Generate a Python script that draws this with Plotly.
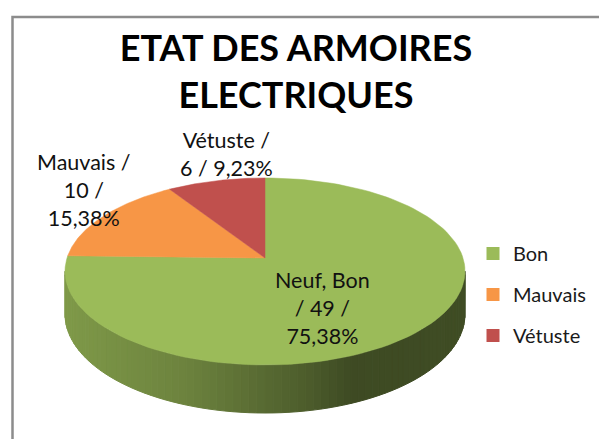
import numpy as np
import plotly.graph_objects as go

# ---- data ----
categories = ["Bon", "Mauvais", "Vétuste"]          # legend entries
label_names = ["Neuf, Bon", "Mauvais", "Vétuste"]   # data label names
values = [49, 10, 6]
colors = ["#9bbb59", "#f79646", "#c0504d"]
title_text = "ETAT DES ARMOIRES<br>ELECTRIQUES"

# ---- geometry (pixel space) ----
W, H = 599, 439
CX, CY = 265, 258
RX, RY = 198, 93.5
PERSP = 0.144
DEPTH = 42
FONT = "Lato, 'Open Sans', sans-serif"


def proj(theta, drop=0.0):
    c = np.cos(theta)
    s = np.sin(theta)
    k = 1 - PERSP * c
    return CX + RX * s * k, CY - RY * c * k + drop * k


def hex_rgb(h):
    h = h.lstrip("#")
    return tuple(int(h[i:i + 2], 16) for i in (0, 2, 4))


total = float(sum(values))
fracs = [v / total for v in values]
bounds = np.concatenate([[0.0], np.cumsum(fracs)]) * 2 * np.pi

fig = go.Figure()

# ---- side wall (front half), shaded gradient ----
ts = np.linspace(0, 2 * np.pi, 2000)
xs, _ = proj(ts)
t_right = ts[np.argmax(xs)]
t_left = ts[np.argmin(xs)]
n_strips = 80
edges = np.linspace(t_right, t_left, n_strips + 1)
shade_pts = [(0.0, 0.82), (0.3, 0.70), (0.6, 0.50), (0.72, 0.40), (1.0, 0.41)]
for i in range(n_strips):
    a0, a1 = edges[i], edges[i + 1]
    am = 0.5 * (a0 + a1)
    idx = int(np.searchsorted(bounds, am % (2 * np.pi), side="right") - 1)
    idx = min(max(idx, 0), len(values) - 1)
    th = np.linspace(a0, a1, 4)
    tx, ty = proj(th)
    bx, by = proj(th[::-1], DEPTH)
    px = np.concatenate([tx, bx, tx[:1]])
    py = np.concatenate([ty, by, ty[:1]])
    mx, _ = proj(am)
    t = (mx - (CX - RX)) / (2 * RX)
    f = np.interp(t, [p[0] for p in shade_pts], [p[1] for p in shade_pts])
    r, g, b = hex_rgb(colors[idx])
    col = f"rgb({int(r * f)},{int(g * f)},{int(b * f)})"
    fig.add_trace(go.Scatter(x=px, y=py, mode="lines", fill="toself",
                             fillcolor=col, line=dict(color=col, width=1),
                             hoverinfo="skip", showlegend=False))

# ---- top faces ----
for i in range(len(values)):
    th = np.linspace(bounds[i], bounds[i + 1], 120)
    ax, ay = proj(th)
    px = np.concatenate([[CX], ax, [CX]])
    py = np.concatenate([[CY], ay, [CY]])
    fig.add_trace(go.Scatter(x=px, y=py, mode="lines", fill="toself",
                             fillcolor=colors[i], line=dict(color=colors[i], width=0.5),
                             name=categories[i], hoverinfo="skip", showlegend=False))

# ---- legend entries ----
for i in range(len(values)):
    fig.add_trace(go.Scatter(x=[None], y=[None], mode="markers", name=categories[i],
                             legendgroup=categories[i],
                             marker=dict(symbol="square", size=13, color=colors[i])))

# ---- data labels ----
def fmt_pct(fr):
    return f"{fr * 100:.2f}%".replace(".", ",")

label_texts = [
    f"{label_names[0]}<br>/ {values[0]} /<br>{fmt_pct(fracs[0])}",
    f"{label_names[1]} /<br>{values[1]} /<br>{fmt_pct(fracs[1])}",
    f"{label_names[2]} /<br>{values[2]} / {fmt_pct(fracs[2])}",
]
label_pos = [(322, 308), (84, 190), (226, 154)]
for txt, (lx, ly) in zip(label_texts, label_pos):
    fig.add_annotation(x=lx, y=ly, xref="x", yref="y", text=txt, showarrow=False,
                       xanchor="center", yanchor="middle", align="center",
                       font=dict(family=FONT, size=21.5, color="#111111"))

# ---- chart border ----
fig.add_shape(type="rect", xref="x", yref="y", x0=12.5, y0=17, x1=610, y1=450,
              line=dict(color="#8c8c8c", width=2.5), fillcolor="rgba(0,0,0,0)", layer="below")

fig.update_layout(
    width=W, height=H,
    margin=dict(l=0, r=0, t=0, b=0),
    paper_bgcolor="white", plot_bgcolor="white",
    title=dict(text=title_text, x=296 / W, xanchor="center", xref="paper",
               y=1 - 61 / H, yanchor="top", yref="container",
               font=dict(family=FONT, size=36, color="#000000", weight="bold")),
    xaxis=dict(range=[0, W], visible=False, fixedrange=True),
    yaxis=dict(range=[H, 0], visible=False, fixedrange=True),
    showlegend=True,
    legend=dict(x=473 / W, y=1 - 234 / H, xanchor="left", yanchor="top",
                font=dict(family=FONT, size=20, color="#1a1a1a"),
                tracegroupgap=12, itemwidth=30, bgcolor="rgba(0,0,0,0)"),
)

fig.write_html("out.html", config={"displayModeBar": False},
               post_script="document.body.style.margin='0px';document.body.style.overflow='hidden';")
